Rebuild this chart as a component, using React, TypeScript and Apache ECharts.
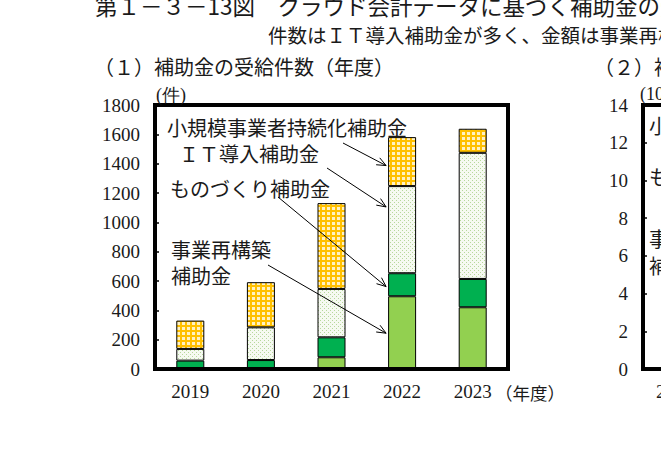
import React, { useEffect, useRef } from 'react';
import * as echarts from 'echarts';

// 年度
const years = ['2019', '2020', '2021', '2022', '2023'];
// 補助金の受給件数（件）
const saikochiku = [0, 0, 80, 496, 421];
const monozukuri = [57, 61, 136, 157, 193];
const itDonyu = [80, 223, 330, 594, 860];
const jizokuka = [193, 308, 585, 334, 164];

// 矢印の注記（2022年度の棒を指す）
const noteFrom = [[343, 143], [327, 168], [278, 197], [268, 265]];
const noteToValue = [1387, 1105, 562, 244];

const CJK = 'Noto Sans CJK JP';
const SERIF = 'Liberation Serif, serif';

const makePattern = (kind: 'check' | 'dots') => {
  const c = document.createElement('canvas');
  const ctx = c.getContext('2d')!;
  if (kind === 'check') {
    c.width = 5;
    c.height = 5;
    ctx.fillStyle = '#fff2c4';
    ctx.fillRect(0, 0, 5, 5);
    ctx.fillStyle = '#ffc000';
    ctx.fillRect(0, 0, 5, 2);
    ctx.fillRect(0, 0, 2, 5);
  } else {
    c.width = 4;
    c.height = 4;
    ctx.fillStyle = '#f6faf1';
    ctx.fillRect(0, 0, 4, 4);
    ctx.fillStyle = '#b7d89c';
    ctx.fillRect(0, 0, 1, 1);
    ctx.fillRect(2, 2, 1, 1);
  }
  return { image: c, repeat: 'repeat', imageWidth: c.width, imageHeight: c.height };
};

const G1 = { left: 155, top: 105, width: 353, height: 264 };
const G2 = { left: 643, top: 105, width: 320, height: 264 };

const App: React.FC = () => {
  const ref = useRef<HTMLDivElement>(null);

  useEffect(() => {
    if (!ref.current) return;
    const chart = echarts.init(ref.current, undefined, { renderer: 'svg' });

    const barStyle = (color: any) => ({ color, borderColor: '#000', borderWidth: 1 });
    const yAxisBase = {
      type: 'value' as const,
      min: 0,
      axisLine: { show: false },
      splitLine: { show: false },
      axisTick: { show: true, inside: true, length: 4, lineStyle: { color: '#000', width: 1.5 } },
      axisLabel: {
        color: '#1a1a1a', fontFamily: SERIF, fontSize: 19, margin: 15,
        formatter: (v: number) => String(v),
      },
    };
    const xAxisBase = {
      type: 'category' as const,
      data: years,
      axisLine: { show: false },
      axisTick: { show: false },
      axisLabel: { color: '#1a1a1a', fontFamily: SERIF, fontSize: 19, margin: 13, interval: 0 },
    };

    chart.setOption({
      animation: false,
      backgroundColor: '#fff',
      grid: [
        { ...G1, outerBoundsMode: 'none', containLabel: false },
        { ...G2, outerBoundsMode: 'none', containLabel: false },
      ],
      xAxis: [{ ...xAxisBase, gridIndex: 0 }, { ...xAxisBase, gridIndex: 1 }],
      yAxis: [
        { ...yAxisBase, gridIndex: 0, max: 1800, interval: 200 },
        { ...yAxisBase, gridIndex: 1, max: 14, interval: 2 },
      ],
      series: [
        { name: '事業再構築補助金', type: 'bar', stack: 'n', barWidth: 28, data: saikochiku, itemStyle: barStyle('#92d050') },
        { name: 'ものづくり補助金', type: 'bar', stack: 'n', barWidth: 28, data: monozukuri, itemStyle: barStyle('#00b050') },
        { name: 'ＩＴ導入補助金', type: 'bar', stack: 'n', barWidth: 28, data: itDonyu, itemStyle: barStyle(makePattern('dots')) },
        { name: '小規模事業者持続化補助金', type: 'bar', stack: 'n', barWidth: 28, data: jizokuka, itemStyle: barStyle(makePattern('check')) },
      ],
    });

    const text = (t: string, x: number, y: number, size: number, family = CJK) => ({
      type: 'text',
      x,
      y,
      z: 50,
      style: { text: t, font: `${size}px ${family}`, fill: '#1a1a1a', verticalAlign: 'middle' },
    });

    const arrows: any[] = [];
    noteFrom.forEach(([sx, sy], i) => {
      const p = chart.convertToPixel({ seriesIndex: 0 }, ['2022', noteToValue[i]]) as number[];
      const ex = p[0] - 16;
      const ey = p[1];
      const len = Math.hypot(ex - sx, ey - sy);
      const dx = (ex - sx) / len;
      const dy = (ey - sy) / len;
      const head = (a: number) => [
        ex - 10 * (dx * Math.cos(a) - dy * Math.sin(a)),
        ey - 10 * (dx * Math.sin(a) + dy * Math.cos(a)),
      ];
      arrows.push({
        type: 'line', z: 60, shape: { x1: sx, y1: sy, x2: ex, y2: ey },
        style: { stroke: '#000', lineWidth: 1 },
      });
      arrows.push({
        type: 'polyline', z: 60, shape: { points: [head(0.4), [ex, ey], head(-0.4)] },
        style: { stroke: '#000', lineWidth: 1, fill: 'none' },
      });
    });

    chart.setOption({
      graphic: [
        { type: 'rect', z: 40, shape: { x: G1.left, y: G1.top, width: G1.width, height: G1.height }, style: { fill: 'none', stroke: '#000', lineWidth: 4 } },
        { type: 'rect', z: 40, shape: { x: G2.left, y: G2.top, width: G2.width, height: G2.height }, style: { fill: 'none', stroke: '#000', lineWidth: 4 } },
        text('第１－３－13図　クラウド会計データに基づく補助金の受給状況', 95, 5, 22.5),
        text('件数はＩＴ導入補助金が多く、金額は事業再構築補助金が多い', 268, 34, 19.5),
        text('（１）補助金の受給件数（年度）', 94, 66, 20),
        text('（２）補助金の受給額（年度）', 594, 66, 20),
        text('(件)', 156, 95, 18, SERIF),
        text('(10億円)', 640, 94, 18, SERIF),
        text('（年度）', 495, 392, 17.5),
        text('小規模事業者持続化補助金', 167, 127, 20),
        text('ＩＴ導入補助金', 179, 153, 20),
        text('ものづくり補助金', 170, 188, 20),
        text('事業再構築', 171, 249, 20),
        text('補助金', 171, 275, 20),
        text('小規模事業者持続化補助金', 649, 125, 20),
        text('ものづくり補助金', 649, 176, 20),
        text('事業再構築', 649, 238, 20),
        text('補助金', 649, 265, 20),
        ...arrows,
      ],
    });

    return () => chart.dispose();
  }, []);

  return <div ref={ref} style={{ position: 'absolute', left: 0, top: 0, width: 661, height: 476 }} />;
};

export default App;
